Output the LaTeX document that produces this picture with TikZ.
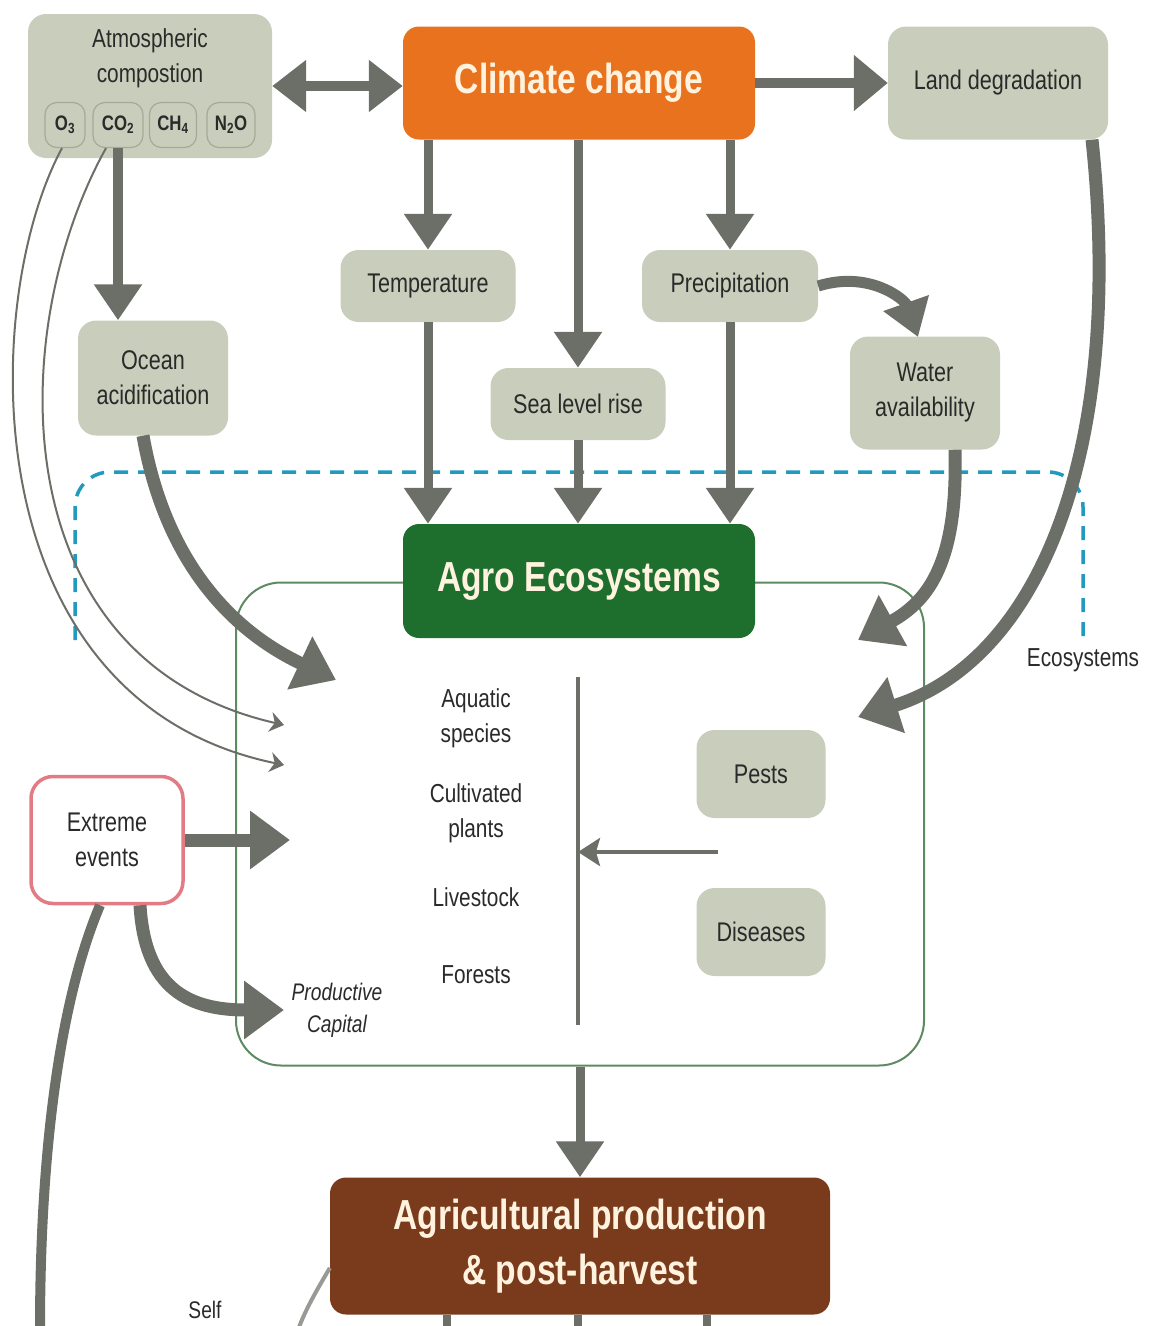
\documentclass[tikz,border=0pt]{standalone}
\usepackage{fontspec}
\setmainfont{Liberation Sans}[FakeStretch=0.8]
\usepackage{xcolor}
\usepackage{tikz}
\usetikzlibrary{arrows.meta,calc}

\definecolor{factorgray}{HTML}{C8CEBB}
\definecolor{gasedge}{HTML}{A3AB96}
\definecolor{arrowgray}{HTML}{6B6F68}
\definecolor{climorange}{HTML}{E8721E}
\definecolor{agrogreen}{HTML}{1E6E2E}
\definecolor{prodbrown}{HTML}{7A3B1C}
\definecolor{framegreen}{HTML}{5E8A62}
\definecolor{ecoblue}{HTML}{2299BE}
\definecolor{pinkedge}{HTML}{E37B84}
\definecolor{labeltext}{HTML}{2A2A2A}
\definecolor{headtext}{HTML}{FFF3E0}

\tikzset{
  factor/.style={rectangle, rounded corners=18pt, fill=factorgray, text=labeltext,
    align=center, inner sep=0pt, font=\fontsize{27}{35}\selectfont},
  headbox/.style={rectangle, rounded corners=16pt, text=headtext, align=center,
    inner sep=0pt, font=\bfseries\fontsize{42}{55}\selectfont},
  gas/.style={rectangle, rounded corners=12pt, fill=factorgray, draw=gasedge,
    line width=1.2pt, text=labeltext, inner sep=0pt, minimum height=45pt,
    font=\bfseries\fontsize{21}{21}\selectfont},
  itemtext/.style={text=labeltext, align=center, inner sep=0pt,
    font=\fontsize{26}{35}\selectfont},
  fat/.style={draw=arrowgray, line width=9pt, -{Triangle[length=36pt,width=46pt]}},
  fatter/.style={draw=arrowgray, line width=13pt, -{Triangle[length=40pt,width=56pt]}},
  thinarrow/.style={draw=arrowgray, line width=2pt, -{Stealth[length=14pt,width=20pt]}},
}

\begin{document}
\begin{tikzpicture}[x=1pt,y=-1pt]
\useasboundingbox (0,0) rectangle (1150,1326);

% ecosystem border
\draw[ecoblue, line width=3.5pt, dash pattern=on 14pt off 10pt, rounded corners=35pt]
  (75,640) -- (75,472) -- (1083,472) -- (1083,640);
\node[itemtext] (ecolabel) at (1083,660) {Ecosystems};

\node[rectangle, draw=framegreen, line width=2pt, rounded corners=45pt,
  minimum width=688pt, minimum height=483pt] (ecoframe) at (580,824) {};

% boxes
\node[factor, minimum width=244pt, minimum height=144pt] (atmos) at (150,86) {};
\node[itemtext] (atmostxt) at (150,58) {Atmospheric\\compostion};
\node[gas, minimum width=40pt] (go3) at (65,125) {O\textsubscript{3}};
\node[gas, minimum width=50pt] (gco2) at (118,125) {CO\textsubscript{2}};
\node[gas, minimum width=47pt] (gch4) at (173,125) {CH\textsubscript{4}};
\node[gas, minimum width=48pt] (gn2o) at (231,125) {N\textsubscript{2}O};

\node[headbox, fill=climorange, minimum width=352pt, minimum height=113pt] (climate) at (579,83) {Climate change};
\node[factor, minimum width=220pt, minimum height=113pt] (land) at (998,83) {Land degradation};
\node[factor, minimum width=175pt, minimum height=72pt] (temp) at (428,286) {Temperature};
\node[factor, minimum width=176pt, minimum height=72pt] (precip) at (730,286) {Precipitation};
\node[factor, minimum width=175pt, minimum height=72pt] (sealevel) at (578,404) {Sea level rise};
\node[factor, minimum width=150pt, minimum height=113pt] (water) at (925,393) {Water\\availability};
\node[factor, minimum width=150pt, minimum height=115pt] (ocean) at (153,378) {Ocean\\acidification};

\node[headbox, fill=agrogreen, minimum width=352pt, minimum height=114pt] (agro) at (579,581) {Agro Ecosystems};

\node[rectangle, rounded corners=22pt, fill=white, draw=pinkedge, line width=3.5pt,
  text=labeltext, align=center, font=\fontsize{27}{35}\selectfont,
  minimum width=152pt, minimum height=127pt] (extreme) at (107,840) {Extreme\\events};

\node[factor, minimum width=129pt, minimum height=88pt] (pests) at (761,774) {Pests};
\node[factor, minimum width=129pt, minimum height=88pt] (diseases) at (761,932) {Diseases};

\node[headbox, fill=prodbrown, minimum width=500pt, minimum height=137pt] (agprod) at (580,1246)
  {Agricultural production\\\& post-harvest};

% inside the agro ecosystems
\node[itemtext] (aquatic) at (476,718) {Aquatic\\species};
\node[itemtext] (cultivated) at (476,813) {Cultivated\\plants};
\node[itemtext] (livestock) at (476,897) {Livestock};
\node[itemtext] (forests) at (476,975) {Forests};
\node[itemtext, font=\itshape\fontsize{24}{32}\selectfont] (prodcap) at (337,1010) {Productive\\Capital};
\node[itemtext, font=\fontsize{24}{30}\selectfont] (self) at (205,1310) {Self};

\coordinate (divtop) at (578,677);
\coordinate (divbot) at (578,1025);
\coordinate (pdstart) at (718,852);
\coordinate (oceanend) at (336,680);
\coordinate (o3end) at (284,765);
\coordinate (co2end) at (284,725);
\coordinate (extremeend) at (290,840);
\coordinate (capend) at (284,1010);
\coordinate (waterend) at (858,640);
\coordinate (landend) at (858,717);
\coordinate (lowend) at (40,1330);
\coordinate (selfend) at (298,1330);

% arrows
\draw[fat, line width=10pt, {Triangle[length=34pt,width=50pt]}-{Triangle[length=34pt,width=50pt]}]
  (atmos.east) -- (atmos.east -| climate.west);
\draw[fat, line width=10pt, -{Triangle[length=34pt,width=54pt]}] (climate.east) -- (land.west);

\draw[fat] (temp.north |- climate.south) -- (temp.north);
\draw[fat] (sealevel.north |- climate.south) -- (sealevel.north);
\draw[fat] (precip.north |- climate.south) -- (precip.north);

\draw[fat] (temp.south) -- (temp.south |- agro.north);
\draw[fat] (sealevel.south) -- (sealevel.south |- agro.north);
\draw[fat] (precip.south) -- (precip.south |- agro.north);

\draw[fat, line width=11pt] (precip.east) .. controls (870,270) and (905,300) .. (918,337);
\draw[fat, line width=10pt] (gco2.south) -- (gco2.south |- ocean.north);

\draw[fatter] ($(ocean.south)+(-10,0)$) .. controls (165,560) and (230,630) .. (oceanend);
\draw[thinarrow] ($(go3.south)+(-3,0)$) .. controls (-20,300) and (-30,700) .. (o3end);
\draw[thinarrow] ($(gco2.south)+(-12,0)$) .. controls (5,330) and (0,660) .. (co2end);

\draw[fatter] ($(water.south)+(30,0)$) .. controls (958,560) and (930,600) .. (waterend);
\draw[fatter] ($(land.south)+(94,0)$) .. controls (1125,450) and (1040,660) .. (landend);

\draw[fatter] (extreme.east) -- (extremeend);
\draw[fatter] ($(extreme.south)+(33,0)$) .. controls (145,990) and (190,1010) .. (capend);
\draw[draw=arrowgray, line width=10pt] ($(extreme.south)+(-7,0)$) .. controls (60,1000) and (40,1150) .. (lowend);

\draw[draw=arrowgray, line width=4pt] (divtop) -- (divbot);
\draw[draw=arrowgray, line width=4pt, -{Stealth[length=22pt,width=28pt,inset=4pt]}] (pdstart) -- (pdstart -| divtop);

\draw[fat] (ecoframe.south) -- (agprod.north);

\foreach \dx in {-133,-2,127} {
  \draw[draw=arrowgray, line width=8pt] ($(agprod.south)+(\dx,0)$) -- ++(0,20);
}
\draw[draw=arrowgray!70, line width=4pt] ($(agprod.west)+(0,22)$) .. controls (318,1288) and (305,1310) .. (selfend);

\end{tikzpicture}
\end{document}
